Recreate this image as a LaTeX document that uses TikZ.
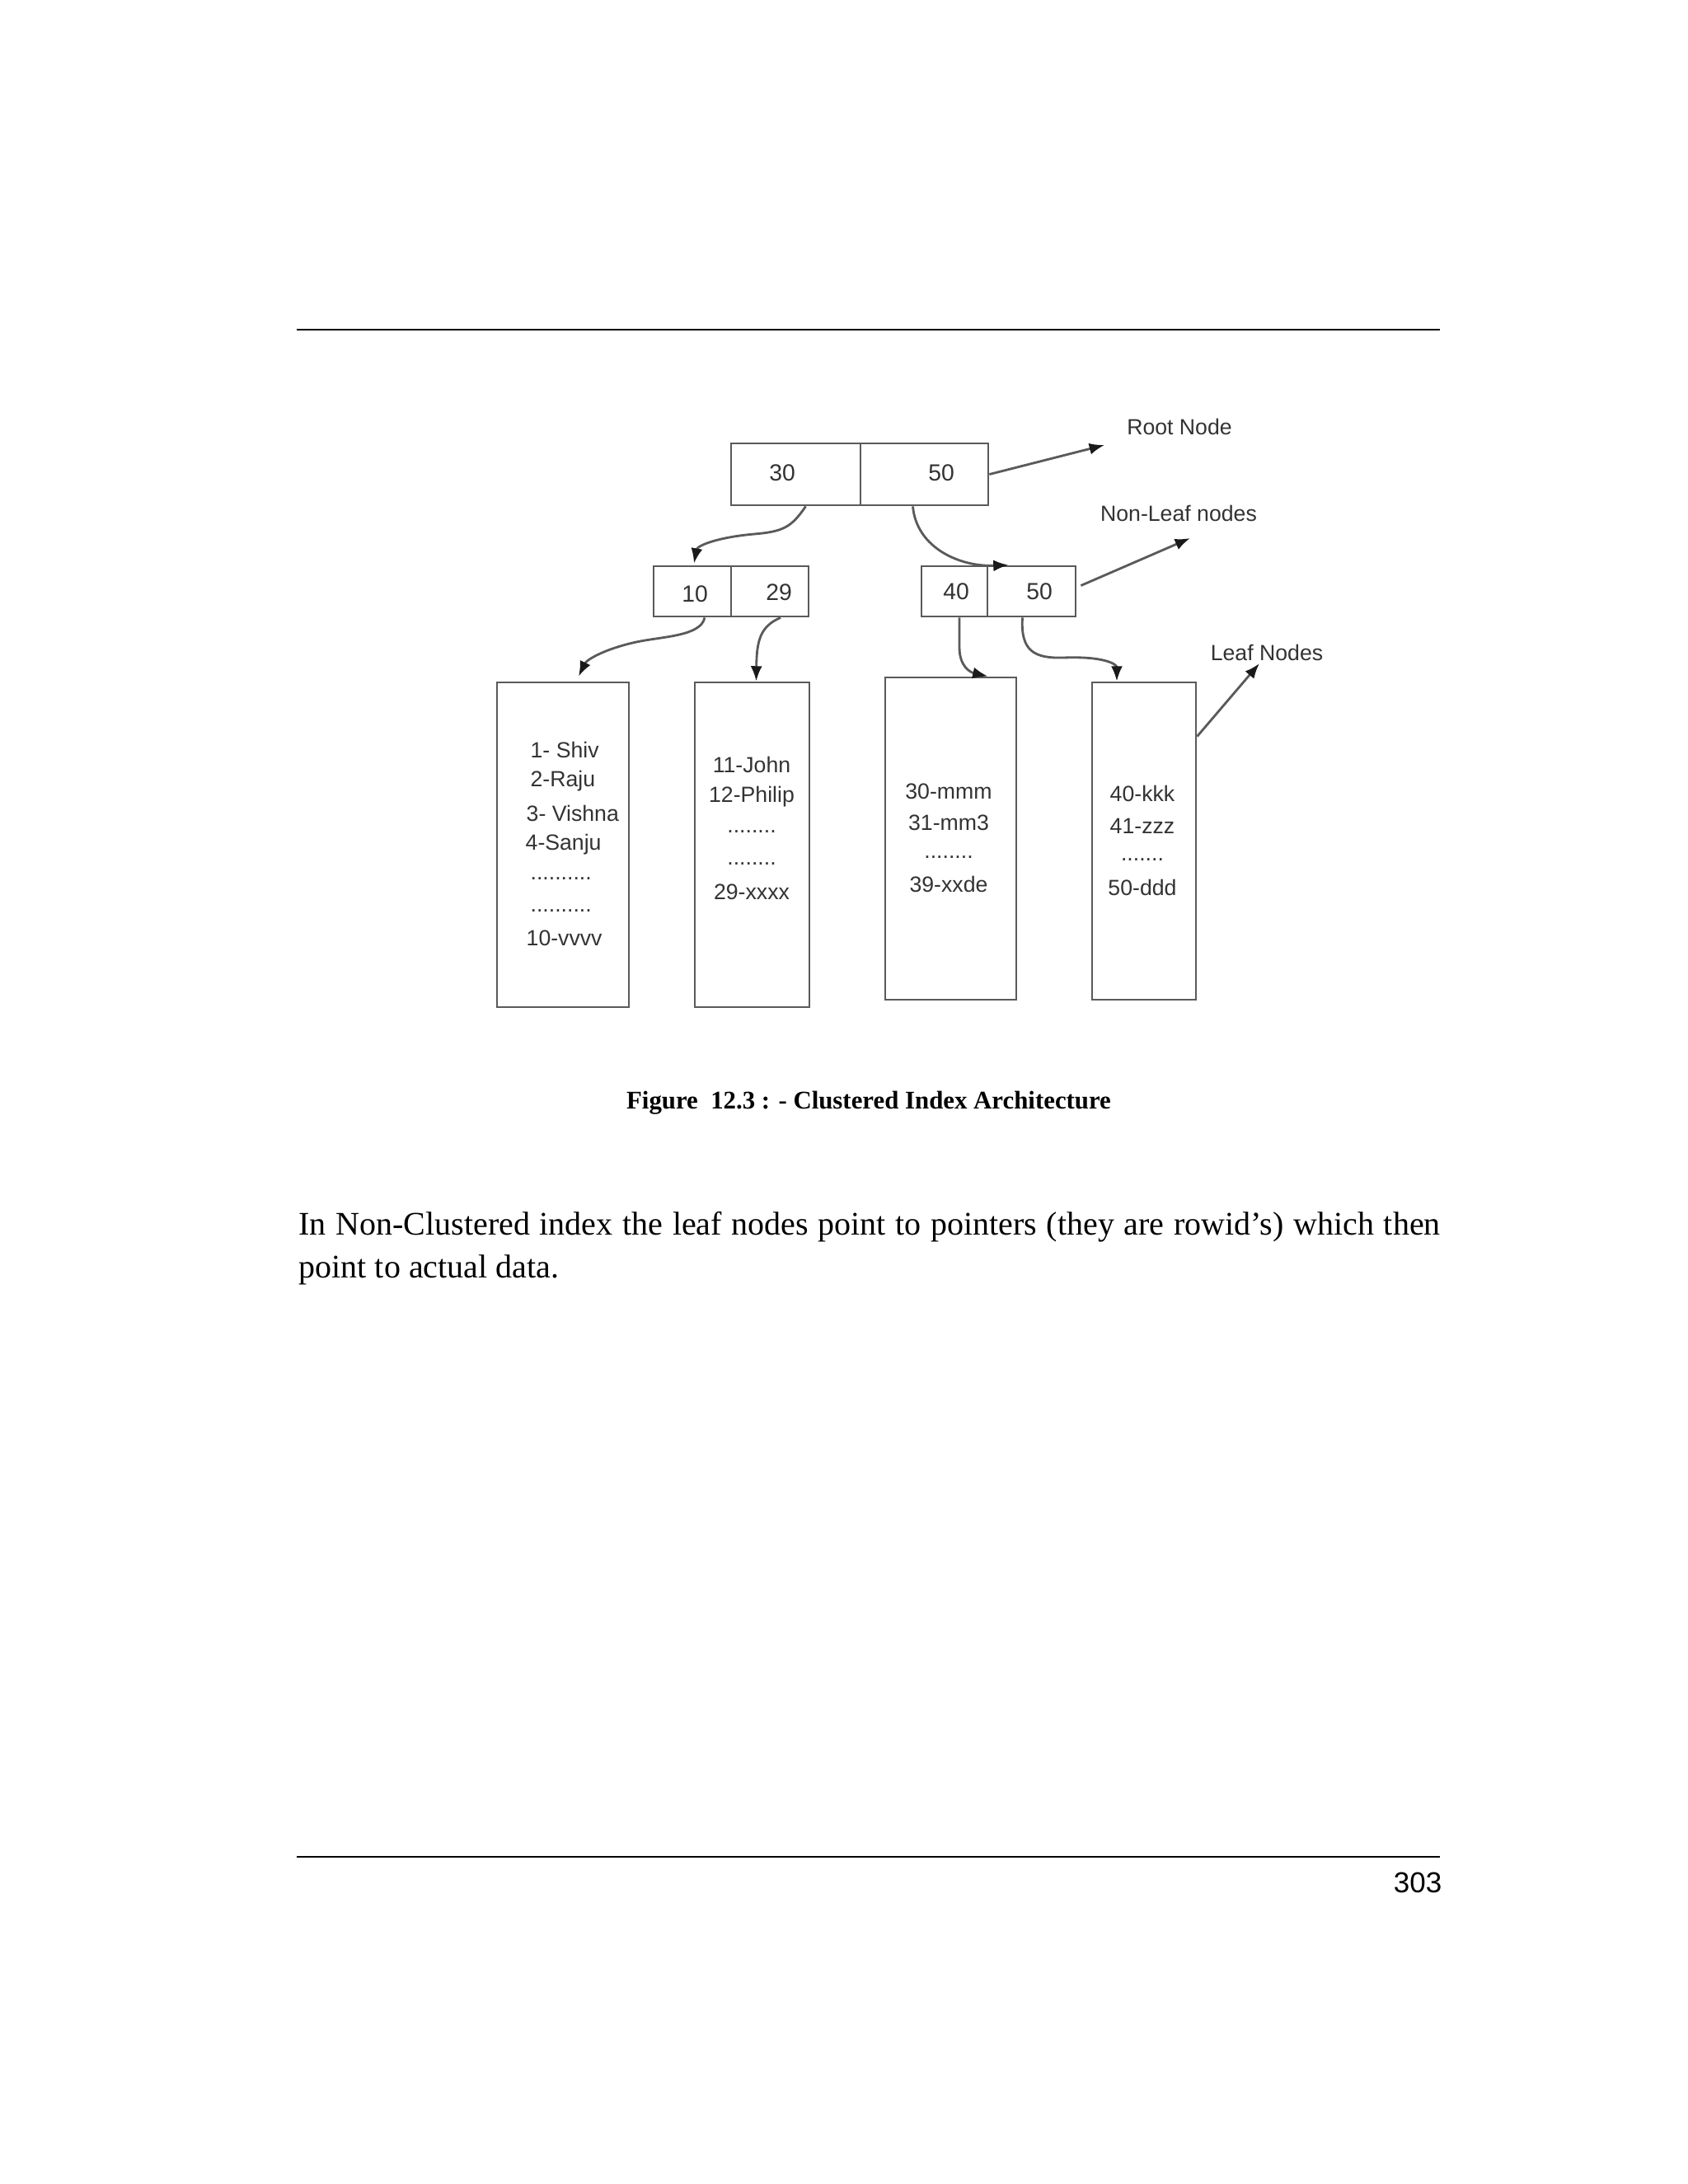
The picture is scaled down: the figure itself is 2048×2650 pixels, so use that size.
\documentclass[tikz,border=0pt]{standalone}
\usepackage{fontspec}
\setmainfont{Liberation Serif}
\newfontfamily\diafont{Liberation Sans}
\usetikzlibrary{arrows.meta,calc}
\definecolor{lncol}{HTML}{5A5A5A}
\definecolor{txcol}{HTML}{333333}
\definecolor{tipcol}{HTML}{1A1A1A}
\begin{document}
\begin{tikzpicture}[x=0.3pt,y=-0.3pt,
  cell/.style={draw=lncol, line width=0.85pt, inner sep=0pt, minimum height=18.3pt},
  leaf/.style={draw=lncol, line width=0.85pt, inner sep=0pt},
  num/.style={font=\diafont\fontsize{8.5}{10}\selectfont, text=txcol, inner sep=1pt},
  ltxt/.style={font=\diafont\fontsize{8}{9.5}\selectfont, text=txcol, inner sep=0pt},
  lbl/.style={font=\diafont\fontsize{8}{9.5}\selectfont, text=txcol, inner sep=1pt},
  conn/.style={draw=lncol, line width=0.85pt, -{Latex[length=5.5pt,width=4.2pt,color=tipcol]}},
  rulel/.style={line width=0.75pt, draw=black}]
\useasboundingbox (0,0) rectangle (2048,2650);
\fill[white] (0,0) rectangle (2048,2650);

% rules
\draw[rulel] (360,400) -- (1747,400);
\draw[rulel] (360,2253) -- (1747,2253);

% root
\node[cell, minimum width=47.1pt, minimum height=22.5pt] (r30) at (965.5,575.5) {};
\node[cell, minimum width=46.5pt, minimum height=22.5pt] (r50) at (1121.5,575.5) {};
\node[num] (t30) at (949,574) {30};
\node[num] (t50r) at (1142,574) {50};

% non-leaf
\node[cell, minimum width=28.2pt] (n10) at (840,717.5) {};
\node[cell, minimum width=28.2pt] (n29) at (934,717.5) {};
\node[cell, minimum width=24pt] (n40) at (1158,717.5) {};
\node[cell, minimum width=32.1pt] (n50) at (1251.5,717.5) {};
\node[num] (t10) at (843,721) {10};
\node[num] (t29) at (945,719) {29};
\node[num] (t40) at (1160,718) {40};
\node[num] (t50) at (1261,718) {50};

% leaves
\node[leaf, minimum width=48pt, minimum height=118.2pt] (L1) at (683,1025) {};
\node[leaf, minimum width=41.7pt, minimum height=118.2pt] (L2) at (912.5,1025) {};
\node[leaf, minimum width=47.7pt, minimum height=117.3pt] (L3) at (1153.5,1017.5) {};
\node[leaf, minimum width=37.8pt, minimum height=115.5pt] (L4) at (1388,1020.5) {};

% leaf 1 text
\node[ltxt, anchor=west] (a1) at (643,910) {1- Shiv};
\node[ltxt, anchor=west] (a2) at (643,948) {2-Raju};
\node[ltxt, anchor=west] (a3) at (638,987) {3- Vishna};
\node[ltxt, anchor=west] (a4) at (637,1025) {4-Sanju};
\node[ltxt, anchor=west] (a5) at (643,1066) {..........};
\node[ltxt, anchor=west] (a6) at (643,1105) {..........};
\node[ltxt, anchor=west] (a7) at (638,1138) {10-vvvv};

% leaf 2 text
\node[ltxt] (b1) at (912,928) {11-John};
\node[ltxt] (b2) at (912,967) {12-Philip};
\node[ltxt] (b3) at (912,1009) {........};
\node[ltxt] (b4) at (912,1048) {........};
\node[ltxt] (b5) at (912,1082) {29-xxxx};

% leaf 3 text
\node[ltxt] (c1) at (1151,960) {30-mmm};
\node[ltxt] (c2) at (1151,998) {31-mm3};
\node[ltxt] (c3) at (1151,1040) {........};
\node[ltxt] (c4) at (1151,1073) {39-xxde};

% leaf 4 text
\node[ltxt] (d1) at (1386,963) {40-kkk};
\node[ltxt] (d2) at (1386,1002) {41-zzz};
\node[ltxt] (d3) at (1386,1043) {.......};
\node[ltxt] (d4) at (1386,1077) {50-ddd};

% labels
\node[lbl] (lroot) at (1431,518) {Root Node};
\node[lbl] (lnonleaf) at (1430,623) {Non-Leaf nodes};
\node[lbl] (lleaf) at (1537,792) {Leaf Nodes};
\coordinate (rootarr) at (1340,540);
\coordinate (nlarr) at (1444,653);
\coordinate (lfarr) at (1528,805);

% tree connectors
\draw[conn] ($(r30.south)+(12,0)$) .. controls (960,640) and (950,645) .. (915,648)
   .. controls (870,652) and (846,662) .. ($(n10.north)+(2,-2)$);
\draw[conn] ($(r50.south)+(-14,0)$) .. controls (1112,665) and (1165,688) .. ($(n50.north west)+(27,0)$);
\draw[conn] ($(n10.south)+(15,0)$) .. controls (850,772) and (805,772) .. (772,779)
   .. controls (735,787) and (712,800) .. ($(L1.north)+(19,-6)$);
\draw[conn] ($(n29.south)+(13,0)$) .. controls (922,760) and (918,778) .. ($(L2.north)+(5,0)$);
\draw[conn] ($(n40.south)+(6,0)$) -- ++(0,36) .. controls +(0,24) and (1178,816) .. ($(L3.north)+(45,0)$);
\draw[conn] ($(n50.south)+(-11,0)$) .. controls (1238,790) and (1255,799) .. (1290,798)
   .. controls (1340,796) and (1355,806) .. ($(L4.north)+(-33,0)$);

% label connectors
\draw[conn] (r50.east) -- (rootarr);
\draw[conn] ($(n50.east)+(5,-7)$) -- (nlarr);
\draw[conn] ($(L4.north east)+(0,67)$) -- (lfarr);

% caption and body
\node[anchor=base, inner sep=0pt, font=\bfseries\fontsize{9.25}{11}\selectfont] (cap) at (1054,1345)
  {Figure\ \ 12.3 : - Clustered Index Architecture};
\node[anchor=base west, inner sep=0pt, font=\fontsize{12}{14}\selectfont] (body1) at (362,1498)
  {\makebox[415.5pt][s]{In Non-Clustered index the leaf nodes point to pointers (they are rowid’s) which then}};
\node[anchor=base west, inner sep=0pt, font=\fontsize{12}{14}\selectfont] (body2) at (362,1550)
  {point to actual data.};
\node[anchor=base east, inner sep=0pt, font=\diafont\fontsize{10.5}{12}\selectfont] (pg) at (1750,2296) {303};
\end{tikzpicture}
\end{document}
